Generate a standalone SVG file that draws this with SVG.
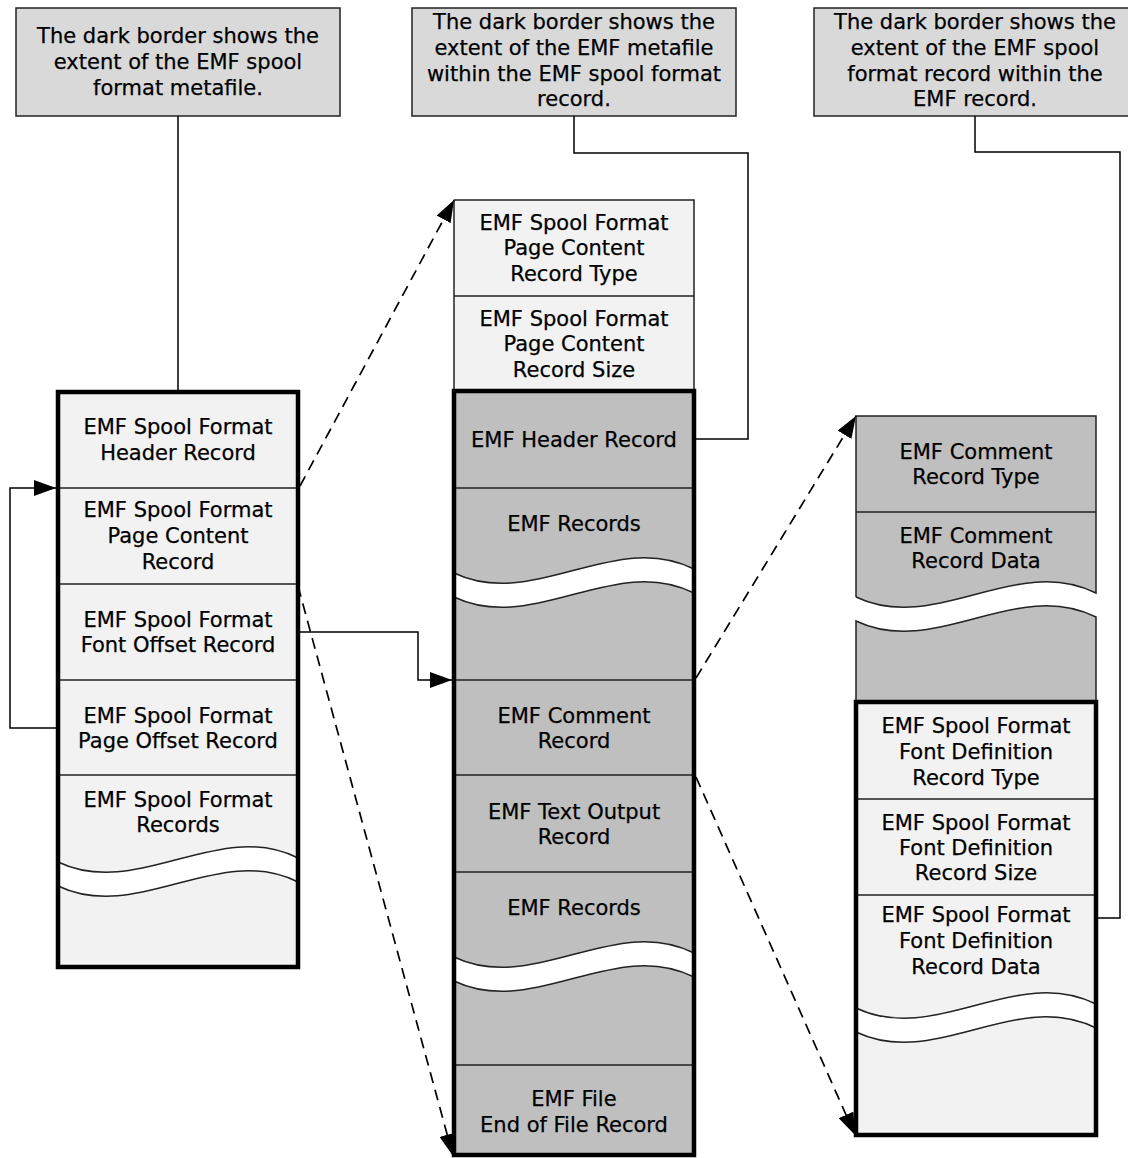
<svg xmlns="http://www.w3.org/2000/svg" xmlns:xlink="http://www.w3.org/1999/xlink" width="1128" height="1158" viewBox="0 0 1128 1158">
<style>
text{font-family:"DejaVu Sans",Verdana,sans-serif;font-size:21px;text-anchor:middle;fill:#000;stroke:#000;stroke-width:0.25}
.callout{fill:#d9d9d9;stroke:#222;stroke-width:1.5}
.light{fill:#f2f2f2}
.dark{fill:#bfbfbf}
.thin{fill:none;stroke:#222;stroke-width:1.5}
.thick{fill:none;stroke:#000;stroke-width:4.5}
.conn{fill:none;stroke:#000;stroke-width:1.5}
.dash{fill:none;stroke:#000;stroke-width:1.7;stroke-dasharray:11 7}
.band{fill:#fff}
</style>
<defs>
<marker id="arrow" viewBox="0 0 22 16" refX="22" refY="8" markerWidth="22" markerHeight="16" markerUnits="userSpaceOnUse" orient="auto">
<path d="M0,0 L22,8 L0,16 Z" fill="#000"/>
</marker>
<g id="wave">
<path class="band" d="M0,0 C80,38 160,-44 240,-4 L240,20 C160,-20 80,62 0,24 Z"/>
<path class="thin" d="M0,0 C80,38 160,-44 240,-4 M0,24 C80,62 160,-20 240,20"/>
</g>
</defs>

<g id="callout1">
<rect class="callout" x="16" y="8" width="324" height="108"/>
<text x="178" y="43">The dark border shows the</text>
<text x="178" y="69">extent of the EMF spool</text>
<text x="178" y="95">format metafile.</text>
</g>
<g id="callout2">
<rect class="callout" x="412" y="8" width="324" height="108"/>
<text x="574" y="29">The dark border shows the</text>
<text x="574" y="55">extent of the EMF metafile</text>
<text x="574" y="81">within the EMF spool format</text>
<text x="574" y="106">record.</text>
</g>
<g id="callout3">
<rect class="callout" x="814" y="8" width="324" height="108"/>
<text x="975" y="29">The dark border shows the</text>
<text x="975" y="55">extent of the EMF spool</text>
<text x="975" y="81">format record within the</text>
<text x="975" y="106">EMF record.</text>
</g>

<g id="left-column">
<rect class="light" x="58" y="392" width="240" height="575"/>
<path class="thin" d="M58,488 H298 M58,584 H298 M58,680 H298 M58,775 H298"/>
<use xlink:href="#wave" href="#wave" transform="translate(58,862)"/>
<rect class="thick" x="58" y="392" width="240" height="575"/>
<g id="spool-header"><text x="178" y="434">EMF Spool Format</text><text x="178" y="460">Header Record</text></g>
<g id="spool-page-content"><text x="178" y="517">EMF Spool Format</text><text x="178" y="543">Page Content</text><text x="178" y="569">Record</text></g>
<g id="spool-font-offset"><text x="178" y="627">EMF Spool Format</text><text x="178" y="652">Font Offset Record</text></g>
<g id="spool-page-offset"><text x="178" y="723">EMF Spool Format</text><text x="178" y="748">Page Offset Record</text></g>
<g id="spool-records"><text x="178" y="807">EMF Spool Format</text><text x="178" y="832">Records</text></g>
</g>

<g id="middle-column">
<rect class="light" x="454" y="200" width="240" height="191"/>
<path class="thin" d="M454,200 H694 V391 M454,391 V200 M454,296 H694"/>
<g id="pc-record-type"><text x="574" y="230">EMF Spool Format</text><text x="574" y="255">Page Content</text><text x="574" y="281">Record Type</text></g>
<g id="pc-record-size"><text x="574" y="326">EMF Spool Format</text><text x="574" y="351">Page Content</text><text x="574" y="377">Record Size</text></g>
<rect class="dark" x="454" y="391" width="240" height="764"/>
<path class="thin" d="M454,488 H694 M454,680 H694 M454,775 H694 M454,872 H694 M454,1065 H694"/>
<use xlink:href="#wave" href="#wave" transform="translate(454,573)"/>
<use xlink:href="#wave" href="#wave" transform="translate(454,957)"/>
<rect class="thick" x="454" y="391" width="240" height="764"/>
<g id="emf-header"><text x="574" y="447">EMF Header Record</text></g>
<g id="emf-records-1"><text x="574" y="531">EMF Records</text></g>
<g id="emf-comment"><text x="574" y="723">EMF Comment</text><text x="574" y="748">Record</text></g>
<g id="emf-text-output"><text x="574" y="819">EMF Text Output</text><text x="574" y="844">Record</text></g>
<g id="emf-records-2"><text x="574" y="915">EMF Records</text></g>
<g id="emf-eof"><text x="574" y="1106">EMF File</text><text x="574" y="1132">End of File Record</text></g>
</g>

<g id="right-column">
<path class="dark" d="M856,416 H1096 V593 C1016,553 936,635 856,597 Z"/>
<path class="thin" d="M856,597 V416 H1096 V593 C1016,553 936,635 856,597 M856,512 H1096"/>
<path class="dark" d="M856,621 C936,659 1016,577 1096,617 V702 H856 Z"/>
<path class="thin" d="M856,702 V621 C936,659 1016,577 1096,617 V702"/>
<g id="comment-type"><text x="976" y="459">EMF Comment</text><text x="976" y="484">Record Type</text></g>
<g id="comment-data"><text x="976" y="543">EMF Comment</text><text x="976" y="568">Record Data</text></g>
<rect class="light" x="856" y="702" width="240" height="433"/>
<path class="thin" d="M856,799 H1096 M856,895 H1096"/>
<use xlink:href="#wave" href="#wave" transform="translate(856,1008)"/>
<rect class="thick" x="856" y="702" width="240" height="433"/>
<g id="fontdef-type"><text x="976" y="733">EMF Spool Format</text><text x="976" y="759">Font Definition</text><text x="976" y="785">Record Type</text></g>
<g id="fontdef-size"><text x="976" y="830">EMF Spool Format</text><text x="976" y="855">Font Definition</text><text x="976" y="880">Record Size</text></g>
<g id="fontdef-data"><text x="976" y="922">EMF Spool Format</text><text x="976" y="948">Font Definition</text><text x="976" y="974">Record Data</text></g>
</g>

<g id="connectors">
<path class="conn" d="M178,116 V390"/>
<path class="conn" d="M574,116 V153 H748 V439 H696"/>
<path class="conn" d="M975,116 V152 H1120 V918 H1098"/>
<path class="conn" d="M56,728 H10 V488 H56" marker-end="url(#arrow)"/>
<path class="conn" d="M300,632 H418 V680 H452" marker-end="url(#arrow)"/>
<path class="dash" d="M300,486 L454,200" marker-end="url(#arrow)"/>
<path class="dash" d="M298,586 L453,1156" marker-end="url(#arrow)"/>
<path class="dash" d="M696,678 L856,416" marker-end="url(#arrow)"/>
<path class="dash" d="M696,777 L855,1135" marker-end="url(#arrow)"/>
</g>
</svg>
